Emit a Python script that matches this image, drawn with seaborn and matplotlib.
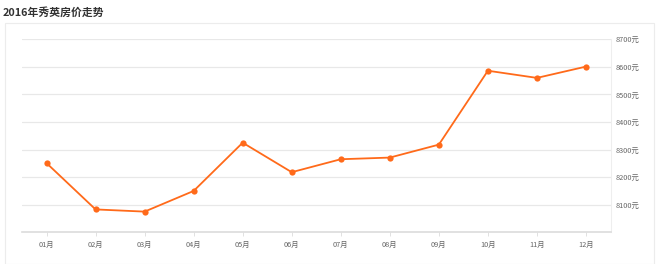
import matplotlib
matplotlib.use("Agg")
import matplotlib.pyplot as plt
import seaborn as sns
import pandas as pd
from matplotlib.patches import Rectangle

months = ["01月", "02月", "03月", "04月", "05月", "06月", "07月", "08月", "09月", "10月", "11月", "12月"]
prices = [8251, 8083, 8075, 8150, 8325, 8218, 8265, 8271, 8318, 8586, 8560, 8601]
yticks = [8100, 8200, 8300, 8400, 8500, 8600, 8700]
ytick_labels = [f"{v}元" for v in yticks]
title = "2016年秀英房价走势"

sns.set_theme(style="white")
plt.rcParams['font.family'] = ['Noto Sans CJK SC', 'DejaVu Sans']

df = pd.DataFrame({"month": months, "price": prices})

fig = plt.figure(figsize=(6.6, 2.64), dpi=100)
W, H = 660, 264
# panel border
fig.patches.append(Rectangle((5 / W, 0), 649 / W, 1 - 23.3 / H, transform=fig.transFigure,
                             fill=False, edgecolor="#ececec", linewidth=0.8, zorder=0))

ax = fig.add_axes([22 / W, 1 - 232.3 / H, (610.5 - 22) / W, (232.3 - 39.3) / H])
ax.set_facecolor("none")

sns.lineplot(data=df, x="month", y="price", ax=ax, color="#ff6a1a", linewidth=1.3,
             marker="o", markersize=4.5, markeredgewidth=0, sort=False)

ax.set_xlim(-0.5, 11.5)
ax.set_ylim(8000, 8700)
ax.yaxis.tick_right()
ax.set_yticks(yticks)
ax.set_yticklabels(ytick_labels)
ax.set_xlabel("")
ax.set_ylabel("")
ax.grid(axis="y", color="#e8e8e8", linewidth=0.9)
ax.grid(axis="x", visible=False)
for s in ["top", "left"]:
    ax.spines[s].set_visible(False)
ax.spines["right"].set_color("#eeeeee")
ax.spines["right"].set_linewidth(0.8)
ax.spines["bottom"].set_color("#dcdcdc")
ax.spines["bottom"].set_linewidth(1.2)
ax.tick_params(axis="x", bottom=True, length=3, width=0.6, color="#dcdcdc",
               labelsize=5.3, labelcolor="#666666", pad=3)
ax.tick_params(axis="y", right=False, left=False, length=0,
               labelsize=5.3, labelcolor="#666666", pad=3.5)

fig.text(3 / W, 1 - 12 / H, title, fontsize=7.8, fontweight="bold", color="#333333",
         ha="left", va="center")

fig.savefig("out.png", dpi=100)
